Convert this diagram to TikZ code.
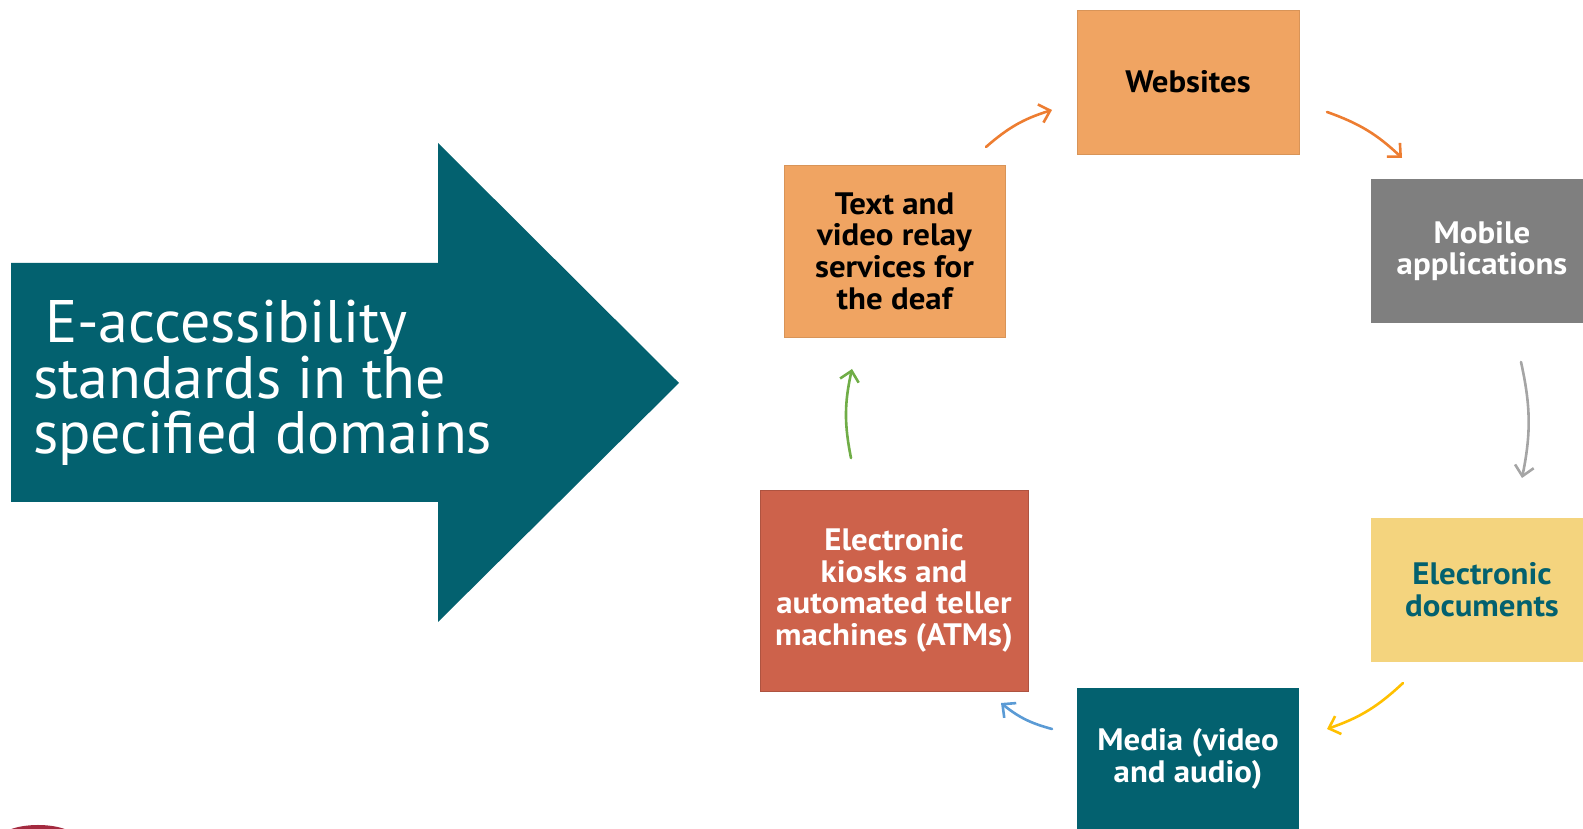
\documentclass[tikz,border=0pt]{standalone}
\usepackage{fontspec}
\setmainfont{PT Sans}[BoldFeatures={FakeStretch=1.06}]
\usetikzlibrary{arrows.meta}
\newcommand\mytightlines{\lineskiplimit=-100pt\relax}
\definecolor{tealA}{HTML}{03616F}
\definecolor{orangeBox}{HTML}{F0A462}
\definecolor{grayBox}{HTML}{7F7F7F}
\definecolor{yellowBox}{HTML}{F4D47E}
\definecolor{redBox}{HTML}{CD624B}
\definecolor{arrOrange}{HTML}{ED7D31}
\definecolor{arrGray}{HTML}{A5A5A5}
\definecolor{arrYellow}{HTML}{FFC000}
\definecolor{arrBlue}{HTML}{5B9BD5}
\definecolor{arrGreen}{HTML}{70AD47}
\definecolor{darkRed}{HTML}{A32A3F}
\tikzset{
  box/.style={rectangle, inner sep=0pt, align=center,
    font=\fontsize{31}{31.7}\selectfont\bfseries\mytightlines},
  flow/.style={line width=2.6pt, line cap=round, bend left=12,
    -{Straight Barb[length=10pt,width=19pt,line width=2.6pt]}},
}
\begin{document}
\begin{tikzpicture}[x=1pt,y=1pt]
\useasboundingbox (0,0) rectangle (1583,829);
% big arrow
\fill[tealA] (11,566) -- (438,566) -- (438,686) -- (679,446) -- (438,207) -- (438,327) -- (11,327) -- cycle;
\node[anchor=west, align=left, inner sep=0pt, text=white,
  font=\fontsize{60}{55.5}\selectfont\mytightlines] (title) at (33,446)
  {\hspace*{12pt}E-accessibility\\standards in the\\specified domains};
% boxes
\node[box, fill=orangeBox, draw=orangeBox!90!black, line width=0.6pt, text=black,
  minimum width=222pt, minimum height=144pt] (web) at (1188,747) {Websites};
\node[box, fill=grayBox, text=white,
  minimum width=222pt, minimum height=144pt] (mob) at (1482,578) {Mobile\\applications};
\node[box, fill=yellowBox, text=tealA,
  minimum width=222pt, minimum height=144pt] (doc) at (1482,239) {Electronic\\documents};
\node[box, fill=tealA, text=white,
  minimum width=222pt, minimum height=142pt] (med) at (1188,70) {Media (video\\and audio)};
\node[box, fill=redBox, draw=redBox!85!black, line width=0.6pt, text=white,
  minimum width=268pt, minimum height=201pt] (kio) at (894,238.5) {Electronic\\kiosks and\\automated teller\\machines (ATMs)};
\node[box, fill=orangeBox, draw=orangeBox!90!black, line width=0.6pt, text=black,
  minimum width=221pt, minimum height=172pt] (rel) at (894.5,578) {Text and\\video relay\\services for\\the deaf};
% arrow end points
\coordinate (a1s) at (986,682);  \coordinate (a1e) at (1052,719);
\coordinate (a2s) at (1327,717); \coordinate (a2e) at (1402,671);
\coordinate (a3s) at (1521,467); \coordinate (a3e) at (1522,351);
\coordinate (a4s) at (1403,146); \coordinate (a4e) at (1327,100);
\coordinate (a5s) at (1052,100); \coordinate (a5e) at (1001,126);
\coordinate (a6s) at (851,371);  \coordinate (a6e) at (852,460);
\draw[flow, arrOrange] (a1s) to (a1e);
\draw[flow, arrOrange] (a2s) to (a2e);
\draw[flow, arrGray] (a3s) to (a3e);
\draw[flow, arrYellow] (a4s) to (a4e);
\draw[flow, arrBlue] (a5s) to (a5e);
\draw[flow, arrGreen] (a6s) to (a6e);
% partial shape at bottom left
\fill[darkRed] (38,-10) ellipse [x radius=38pt, y radius=14pt];
\end{tikzpicture}
\end{document}
